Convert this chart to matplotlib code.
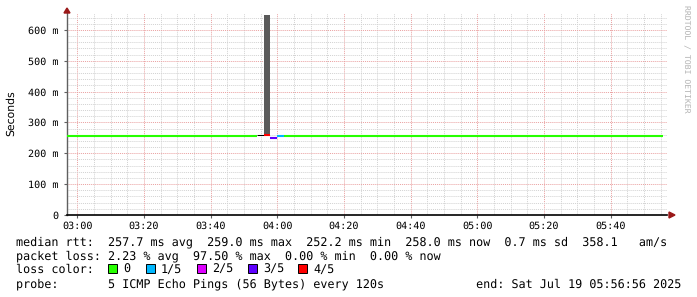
import datetime as dt
import matplotlib
matplotlib.use("Agg")
import matplotlib.pyplot as plt
import matplotlib.dates as mdates
from matplotlib.ticker import MultipleLocator, FuncFormatter
from matplotlib.patches import Polygon, Rectangle

plt.rcParams["text.hinting"] = "no_hinting"

# --- data ---
graph_start = "02:56:56"
graph_end = "05:56:56"

# median rtt drawn as flat segments, coloured by packet loss of that step
seg_start = ["02:56:56", "03:53:56", "03:55:56", "03:57:56", "03:59:56", "04:01:56"]
seg_end = ["03:53:56", "03:55:56", "03:57:56", "03:59:56", "04:01:56", "05:55:36"]
seg_median = [0.2577, 0.2585, 0.2580, 0.2512, 0.2565, 0.2577]  # seconds
seg_loss = ["0", "5/5", "4/5", "3/5", "1/5", "0"]

# smoke (spread of the individual pings)
smoke_start = ["03:55:56"]
smoke_end = ["03:57:56"]
smoke_low = [0.2590]
smoke_high = [0.6490]

loss_labels = ["0", "1/5", "2/5", "3/5", "4/5"]
loss_colors = ["#26ff00", "#00b8ff", "#dd00ff", "#5e00ff", "#ff0000"]

legend_lines = [
    "median rtt:  257.7 ms avg  259.0 ms max  252.2 ms min  258.0 ms now  0.7 ms sd  358.1   am/s",
    "packet loss: 2.23 % avg  97.50 % max  0.00 % min  0.00 % now",
    "loss color:",
    "probe:       5 ICMP Echo Pings (56 Bytes) every 120s             end: Sat Jul 19 05:56:56 2025",
]

W, H = 697, 297
MONO = "DejaVu Sans Mono"
LEG_FS = 8.47


def t(s):
    return dt.datetime.strptime("2025-07-19 " + s, "%Y-%m-%d %H:%M:%S")


def fx(px):
    return px / W


def fy(py):
    return 1 - py / H


color_of = dict(zip(loss_labels, loss_colors))
color_of["5/5"] = "#000000"

fig = plt.figure(figsize=(W / 100, H / 100), dpi=100)
ax = fig.add_axes([fx(67), fy(215), 600 / W, 202 / H])

for a, b, lo, hi in zip(smoke_start, smoke_end, smoke_low, smoke_high):
    ax.fill_between([t(a), t(b)], [lo, lo], [hi, hi], color="#5a5a5a", lw=0, zorder=2)

for a, b, m, loss in zip(seg_start, seg_end, seg_median, seg_loss):
    lw = 0.75 if loss == "5/5" else 1.5
    ax.hlines(m, t(a), t(b), colors=color_of[loss], lw=lw, zorder=3)

ax.set_xlim(t(graph_start), t(graph_end))
ax.set_ylim(0, 0.655)

ax.xaxis.set_major_locator(mdates.MinuteLocator(byminute=[0, 20, 40]))
ax.xaxis.set_minor_locator(mdates.MinuteLocator(byminute=range(0, 60, 5)))
ax.xaxis.set_major_formatter(mdates.DateFormatter("%H:%M"))
ax.yaxis.set_major_locator(MultipleLocator(0.1))
ax.yaxis.set_minor_locator(MultipleLocator(0.02))
ax.yaxis.set_major_formatter(FuncFormatter(
    lambda v, p: "0" if abs(v) < 1e-9 else f"{int(round(v * 1000))} m"))

ax.grid(which="minor", color="#d2d2d2", linestyle=(0, (1, 1)), lw=0.7, zorder=0)
ax.grid(which="major", color="#eaa0a0", linestyle=(0, (1, 1)), lw=0.7, zorder=1)

for side in ("top", "right"):
    ax.spines[side].set_visible(False)
ax.spines["left"].set_color("#606060")
ax.spines["bottom"].set_color("#000000")
ax.spines["left"].set_linewidth(1)
ax.spines["bottom"].set_linewidth(1.2)

ax.tick_params(which="major", length=2, width=0.8, color="#606060",
               labelsize=7.3, pad=4)
ax.tick_params(which="minor", length=0)
ax.tick_params(axis="x", pad=2.5)
for lab in ax.get_xticklabels() + ax.get_yticklabels():
    lab.set_family(MONO)

fig.text(fx(11), fy(113), "Seconds", rotation=90, ha="center", va="center",
         fontsize=7.8, family="DejaVu Sans")

fig.text(fx(686), fy(5), "RRDTOOL / TOBI OETIKER", rotation=-90, ha="center",
         va="top", fontsize=5.9, color="#b4b4b4", family=MONO)

# axis arrows
arrow_col = "#9a1818"
fig.add_artist(Polygon([[fx(64), fy(13)], [fx(70), fy(13)], [fx(67), fy(8)]],
                       closed=True, color=arrow_col, transform=fig.transFigure))
fig.add_artist(Polygon([[fx(669), fy(212)], [fx(669), fy(218)], [fx(675), fy(215)]],
                       closed=True, color=arrow_col, transform=fig.transFigure))

# legend text
baselines = [245, 259, 273, 287]
for txt, base in zip(legend_lines, baselines):
    fig.text(fx(16), fy(base), txt, ha="left", va="baseline",
             fontsize=LEG_FS, family=MONO)

box_x = [108, 146, 197, 248, 298]
for lab, col, x in zip(loss_labels, loss_colors, box_x):
    fig.add_artist(Rectangle((fx(x), fy(272.5)), 8.5 / W, 8.5 / H, facecolor=col,
                             edgecolor="black", lw=0.7, transform=fig.transFigure))
    fig.text(fx(x + 15), fy(273), lab, ha="left", va="baseline",
             fontsize=LEG_FS, family=MONO)

fig.savefig("out.png", dpi=100)
